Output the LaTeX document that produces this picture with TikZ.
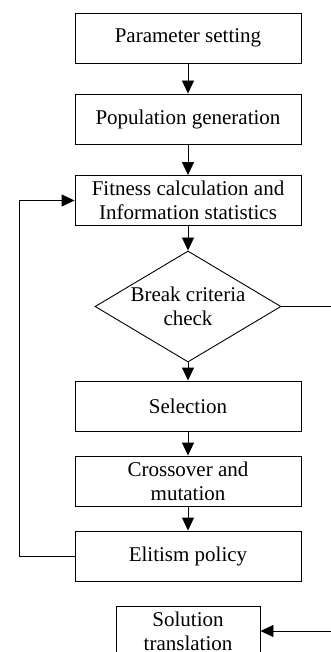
\documentclass[tikz,border=0pt]{standalone}
\usepackage{fontspec}
\setmainfont{Liberation Serif}
\usetikzlibrary{shapes.geometric, arrows.meta}

\begin{document}
\begin{tikzpicture}[x=1pt, y=-1pt, line width=0.9pt,
				  stepbox/.style={draw, rectangle, minimum width=226pt, minimum height=50pt, inner sep=0pt, align=center},
				  checkbox/.style={draw, diamond, aspect=1.676, minimum width=186pt, minimum height=111pt, inner sep=0pt, align=center},
				  flow/.style={-{Triangle[length=13pt, width=12pt]}},
				  every node/.style={font=\fontsize{21}{24}\selectfont}]
				  \useasboundingbox (0,0) rectangle (330,652);
				  \node[stepbox] (param) at (188,38) {Parameter setting};
				  \node[stepbox] (pop) at (188,119) {Population generation};
				  \node[stepbox] (fit) at (188,200.5) {Fitness calculation and\\Information statistics};
				  \node[checkbox] (brk) at (188,306.5) {Break criteria\\check};
				  \node[stepbox] (sel) at (188,406) {Selection};
				  \node[stepbox] (cross) at (188,481) {Crossover and\\mutation};
				  \node[stepbox] (elite) at (188,556) {Elitism policy};
				  \node[stepbox, minimum width=144pt] (sol) at (188,631) {Solution\\translation};
				  \coordinate (loop) at (19,556);
				  \coordinate (exit) at (345,306.5);
				  \draw[flow] (param) -- (pop);
				  \draw[flow] (pop) -- (fit);
				  \draw[flow] (fit) -- (brk);
				  \draw[flow] (brk) -- (sel);
				  \draw[flow] (sel) -- (cross);
				  \draw[flow] (cross) -- (elite);
				  \draw[flow] (elite.west) -- (loop) |- (fit.west);
				  \draw[flow] (brk.east) -- (exit) |- (sol.east);
				\end{tikzpicture}
\end{document}
